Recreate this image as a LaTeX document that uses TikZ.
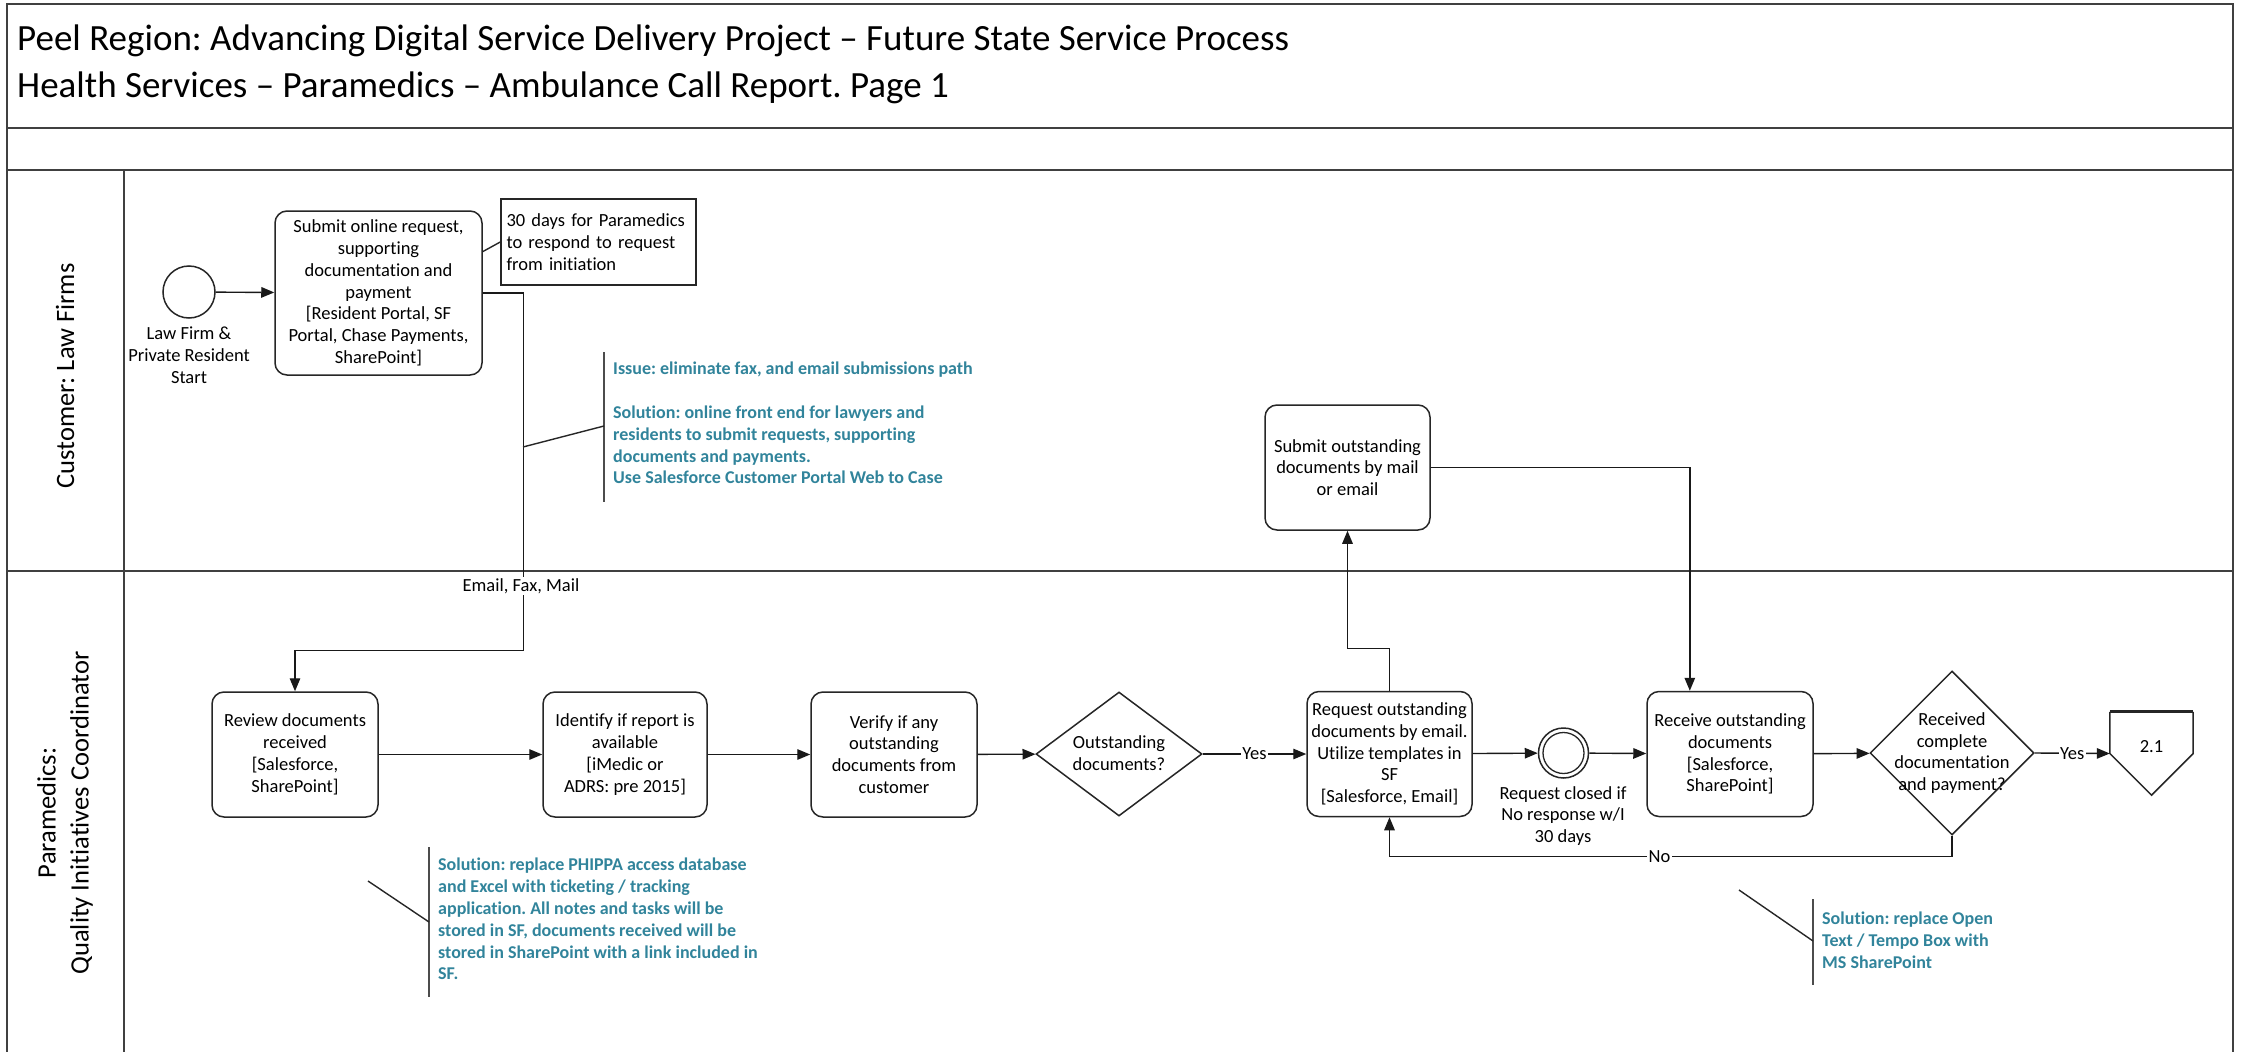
\documentclass[tikz,border=0pt]{standalone}
\usepackage{fontspec}
\setmainfont{Carlito}[Ligatures=CommonOff]
\usetikzlibrary{arrows.meta,shapes.geometric,calc}
\definecolor{noteteal}{RGB}{49,132,155}
\frenchspacing
\begin{document}
\begin{tikzpicture}[x=1pt,y=-1pt,
  framel/.style={line width=2.5pt, draw=black!75},
  task/.style={draw=black!85, line width=1.5pt, rounded corners=12pt, align=center, inner sep=2pt, font=\fontsize{18.5}{21.8}\selectfont},
  txt/.style={align=center, inner sep=0pt, font=\fontsize{18.5}{21.8}\selectfont},
  arr/.style={line width=1.4pt, draw=black!90, -{Triangle[length=13pt,width=10.5pt]}},
  ln/.style={line width=1.4pt, draw=black!85},
  note/.style={align=left, inner sep=0pt, text=noteteal, font=\bfseries\fontsize{18}{21.8}\selectfont},
  brk/.style={line width=2pt, draw=black!70},
  lbl/.style={fill=white, inner sep=1.5pt, font=\fontsize{18.5}{21.8}\selectfont},
  dia/.style={diamond, draw=black!85, line width=1.5pt, inner sep=0pt},
  lane/.style={rotate=90, align=center, inner sep=0pt, font=\fontsize{26.5}{33}\selectfont}
]
\useasboundingbox (0,0) rectangle (2241,1052);
\fill[white] (0,0) rectangle (2241,1052);

% frame and lanes
\draw[framel] (7,1052) -- (7,4) -- (2233,4) -- (2233,1052);
\draw[framel] (7,128) -- (2233,128);
\draw[framel] (7,170) -- (2233,170);
\draw[framel] (7,571) -- (2233,571);
\draw[framel] (124,170) -- (124,1052);

\node[anchor=west, align=left, inner sep=0pt, font=\fontsize{37}{47}\selectfont] (title) at (17,64.5)
  {Peel Region: Advancing Digital Service Delivery Project – Future State Service Process\\Health Services – Paramedics – Ambulance Call Report. Page 1};

\node[lane] (lane1) at (65,376) {Customer: Law Firms};
\node[lane] (lane2) at (65,813) {Paramedics:\\Quality Initiatives Coordinator};

% lane 1
\node[circle, draw=black!85, line width=1.5pt, minimum size=52pt, inner sep=0pt] (start) at (189,292) {};
\node[txt] (startlbl) at (189,355) {Law Firm \&\\Private Resident\\Start};
\node[task, minimum width=207pt, minimum height=164pt] (sub1) at (378.5,293)
  {Submit online request,\\supporting\\documentation and\\payment\\\relax[Resident Portal, SF\\Portal, Chase Payments,\\SharePoint]};
\node[draw=black!85, line width=1.5pt, minimum width=195pt, minimum height=86pt, text width=184pt,
  inner xsep=5.5pt, inner ysep=0pt, align=left, font=\fontsize{18.5}{21.8}\selectfont] (note30) at (598.5,242)
  {30 days for Paramedics\\to respond to request\\from initiation};
\node[task, minimum width=165pt, minimum height=125pt] (sub2) at (1347.5,467.5)
  {Submit outstanding\\documents by mail\\or email};

% lane 2
\node[task, minimum width=166pt, minimum height=125pt] (rev) at (295,754.5)
  {Review documents\\received\\\relax[Salesforce,\\SharePoint]};
\node[task, minimum width=164pt, minimum height=125pt] (ident) at (625,754.5)
  {Identify if report is\\available\\\relax[iMedic or\\ADRS: pre 2015]};
\node[task, minimum width=166pt, minimum height=125pt] (ver) at (894,754.5)
  {Verify if any\\outstanding\\documents from\\customer};
\node[dia, minimum width=166pt, minimum height=124pt] (d1) at (1119,754) {};
\node[txt] (d1t) at (1119,753) {Outstanding\\documents?};
\node[task, minimum width=165pt, minimum height=125pt] (req) at (1389.5,754)
  {Request outstanding\\documents by email.\\Utilize templates in\\SF\\\relax[Salesforce, Email]};
\node[circle, draw=black!85, line width=1.5pt, minimum size=50pt, inner sep=0pt] (ev) at (1563.5,753) {};
\draw[line width=1.3pt, draw=black!85] (ev.center) circle[radius=20.5pt];
\node[txt] (evlbl) at (1563,816) {Request closed if\\No response w/I\\30 days};
\node[task, minimum width=166pt, minimum height=125pt] (recv) at (1730,754)
  {Receive outstanding\\documents\\\relax[Salesforce,\\SharePoint]};
\node[dia, minimum width=164pt, minimum height=164pt] (d2) at (1952,753) {};
\node[txt] (d2t) at (1952,753) {Received\\complete\\documentation\\and payment?};
\node[minimum width=83pt, minimum height=83pt, inner sep=0pt] (off) at (2151.5,753.5) {};
\draw[line width=1.5pt, draw=black!85] (off.north west) -- (off.west) -- (off.south) -- (off.east) -- (off.north east);
\draw[line width=3pt, draw=black!85] (off.north west) -- (off.north east);
\node[txt] (offt) at (2151.5,747) {2.1};

% connectors
\draw[arr] (start) -- (sub1);
\draw[ln] ($(sub1.north east)!0.25!(sub1.south east)$) -- (note30.west);
\draw[arr] (sub1.east) -- ++(41,0) coordinate (e1) |- ($(rev.north)+(0,-41)$) -- (rev.north);
\node[lbl] (efm) at (521,586) {Email, Fax, Mail};
\draw[arr] (rev) -- (ident);
\draw[arr] (ident) -- (ver);
\draw[arr] (ver) -- (d1);
\draw[arr] (d1.east) -- (req.west) node[lbl, midway] {Yes};
\draw[arr] (req) -- (ev);
\draw[arr] (ev) -- (recv);
\draw[arr] (recv) -- (d2);
\draw[arr] (d2.east) -- (off.west) node[lbl, midway] {Yes};
\draw[arr] (req.north) -- ++(0,-42) -| (sub2.south);
\coordinate (rvin) at ($(recv.north west)!0.26!(recv.north east)$);
\draw[arr] (sub2.east) -| (rvin);
\draw[arr] (d2.south) -- ++(0,21) -| (req.south) node[lbl, pos=0.26] {No};

% annotations
\draw[brk] (604,352) -- (604,502);
\draw[ln] (523,447) -- (604,426);
\node[note, anchor=north west] (n1) at (613,362)
  {Issue: eliminate fax, and email submissions path\\[21.8pt]Solution: online front end for lawyers and\\residents to submit requests, supporting\\documents and payments.\\Use Salesforce Customer Portal Web to Case};

\draw[brk] (429,847) -- (429,997);
\draw[ln] (368,881) -- (429,922);
\node[note, anchor=north west] (n2) at (438,858)
  {Solution: replace PHIPPA access database\\and Excel with ticketing / tracking\\application. All notes and tasks will be\\stored in SF, documents received will be\\stored in SharePoint with a link included in\\SF.};

\draw[brk] (1813,899) -- (1813,985);
\draw[ln] (1739,890) -- (1813,941);
\node[note, anchor=north west] (n3) at (1822,912)
  {Solution: replace Open\\Text / Tempo Box with\\MS SharePoint};
\end{tikzpicture}
\end{document}
